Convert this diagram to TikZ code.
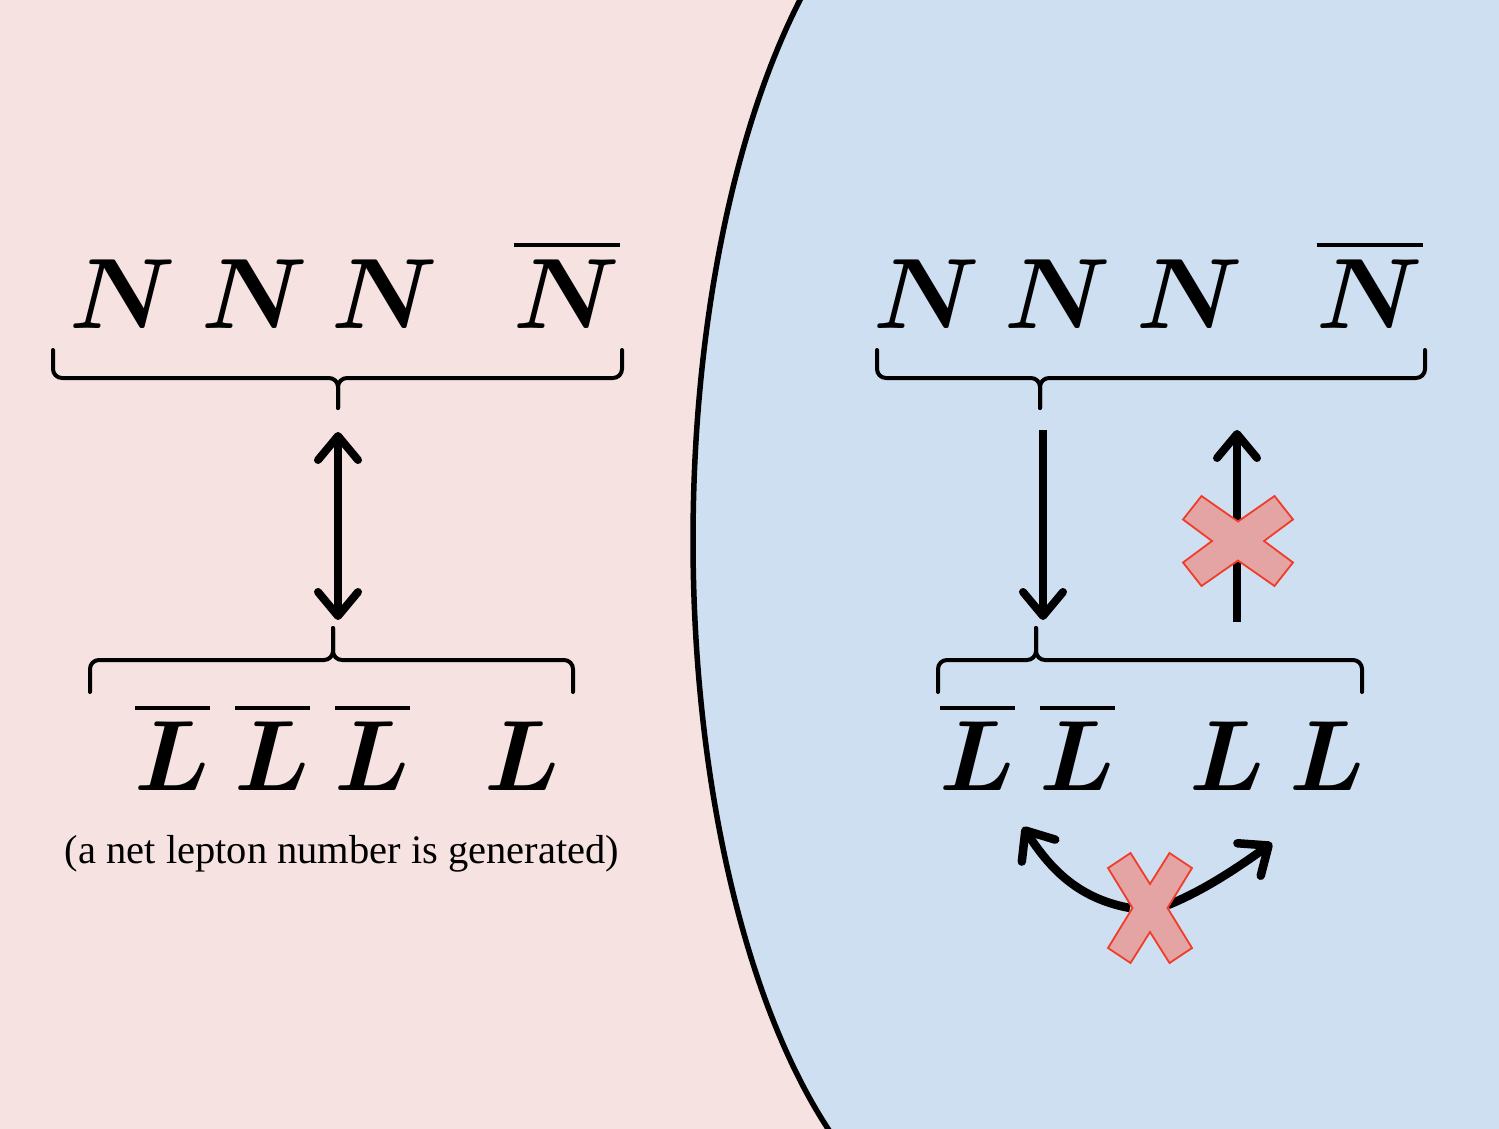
\RequirePackage{fix-cm}
\documentclass[tikz,border=0pt]{standalone}
\usepackage{amsmath}
\usepackage{bm}
\usepackage{fontspec}
\newfontfamily\capfont{Liberation Serif}
\usetikzlibrary{arrows.meta}
\definecolor{bgpink}{RGB}{245,226,225}
\definecolor{bgblue}{RGB}{206,223,241}
\definecolor{xfill}{RGB}{228,164,164}
\definecolor{xedge}{RGB}{240,60,40}
\tikzset{
  sym/.style={inner sep=0pt, anchor=base, font=\fontsize{100}{100}\selectfont},
  barline/.style={line width=4.5pt},
  bracepath/.style={line width=4pt, rounded corners=9pt, line cap=round},
  bigarrow/.style={line width=8pt, line cap=butt},
  tipstyle/.tip={Straight Barb[length=24pt,width=40pt,round]},
  crossmark/.style={fill=xfill, draw=xedge, line width=1.8pt, line join=miter},
}
\newcommand{\antibar}[2]{\draw[barline] ([yshift=#2]#1.north west) -- ([yshift=#2]#1.north east);}
\begin{document}
\begin{tikzpicture}[x=1pt,y=-1pt]
\useasboundingbox (0,0) rectangle (1499,1129);
\clip (0,0) rectangle (1499,1129);
% backgrounds
\fill[bgpink] (0,0) rectangle (1499,1129);
\fill[bgblue] plot[domain=127:240,samples=120] ({987+294*cos(\x)},{540-700*sin(\x)}) -- (1520,1160) -- (1520,-30) -- cycle;
\draw[line width=5.5pt] plot[domain=127:240,samples=120] ({987+294*cos(\x)},{540-700*sin(\x)});

% ---------- left panel ----------
\node[sym] (ln1) at (123,328) {$\bm{N}$};
\node[sym] (ln2) at (255,328) {$\bm{N}$};
\node[sym] (ln3) at (385,328) {$\bm{N}$};
\node[sym] (ln4) at (567,328) {$\bm{N}$};
\antibar{ln4}{14pt}

\coordinate (ltb) at (338,408);
\draw[bracepath] (53,350) -- (53,378) -- (338,378) -- (ltb);
\draw[bracepath] (622,350) -- (622,378) -- (338,378) -- (ltb);

\coordinate (lbt) at (333,628);
\draw[bracepath] (90,692) -- (90,660) -- (333,660) -- (lbt);
\draw[bracepath] (573,692) -- (573,660) -- (333,660) -- (lbt);

\coordinate (la1) at (338,432);
\coordinate (la2) at (338,620);
\draw[bigarrow, {tipstyle}-{tipstyle}] (la1) -- (la2);

\node[sym] (ll1) at (172.5,790) {$\bm{L}$};
\node[sym] (ll2) at (272.5,790) {$\bm{L}$};
\node[sym] (ll3) at (372.5,790) {$\bm{L}$};
\node[sym] (ll4) at (522,790) {$\bm{L}$};
\antibar{ll1}{13pt}
\antibar{ll2}{13pt}
\antibar{ll3}{13pt}

\node[inner sep=0pt, anchor=base, font=\capfont\fontsize{40.5}{44}\selectfont] (cap) at (342,863) {(a net lepton number is generated)};

% ---------- right panel ----------
\node[sym] (rn1) at (927,328) {$\bm{N}$};
\node[sym] (rn2) at (1058,328) {$\bm{N}$};
\node[sym] (rn3) at (1190,328) {$\bm{N}$};
\node[sym] (rn4) at (1370,328) {$\bm{N}$};
\antibar{rn4}{14pt}

\coordinate (rtb) at (1040,408);
\draw[bracepath] (877,350) -- (877,378) -- (1040,378) -- (rtb);
\draw[bracepath] (1425,350) -- (1425,378) -- (1040,378) -- (rtb);

\coordinate (rbt) at (1036,628);
\draw[bracepath] (938,692) -- (938,660) -- (1036,660) -- (rbt);
\draw[bracepath] (1362,692) -- (1362,660) -- (1036,660) -- (rbt);

\coordinate (ra1) at (1043,430);
\coordinate (ra2) at (1043,620);
\draw[bigarrow, -{tipstyle}] (ra1) -- (ra2);

\coordinate (rb1) at (1237,622);
\coordinate (rb2) at (1237,430);
\draw[bigarrow, -{tipstyle}] (rb1) -- (rb2);

\node[sym] (rl1) at (977.5,790) {$\bm{L}$};
\node[sym] (rl2) at (1077.5,790) {$\bm{L}$};
\node[sym] (rl3) at (1227.5,790) {$\bm{L}$};
\node[sym] (rl4) at (1327.5,790) {$\bm{L}$};
\antibar{rl1}{13pt}
\antibar{rl2}{13pt}

% curved arrows
\coordinate (cs1) at (1130,908);
\coordinate (ce1) at (1023,827);
\coordinate (cs2) at (1168,905);
\coordinate (ce2) at (1272,843);
\draw[bigarrow, line width=8.5pt, -{tipstyle}] (cs1) .. controls (1075,898) and (1048,865) .. (ce1);
\draw[bigarrow, line width=8.5pt, -{tipstyle}] (cs2) .. controls (1205,890) and (1240,866) .. (ce2);

% crosses
\draw[crossmark, shift={(1238,541)}]
  (-26,0) -- (-55,-21.5) -- (-36.5,-45) -- (0,-19.5) -- (36.5,-45) -- (55,-21.5) -- (26,0)
  -- (55,21.5) -- (36.5,45) -- (0,19.5) -- (-36.5,45) -- (-55,21.5) -- cycle;
\draw[crossmark, shift={(1150,908)}]
  (-17.5,0) -- (-42,-40) -- (-19.5,-55) -- (0,-24) -- (19.5,-55) -- (42,-40) -- (17.5,0)
  -- (42,40) -- (19.5,55) -- (0,24) -- (-19.5,55) -- (-42,40) -- cycle;
\end{tikzpicture}
\end{document}
